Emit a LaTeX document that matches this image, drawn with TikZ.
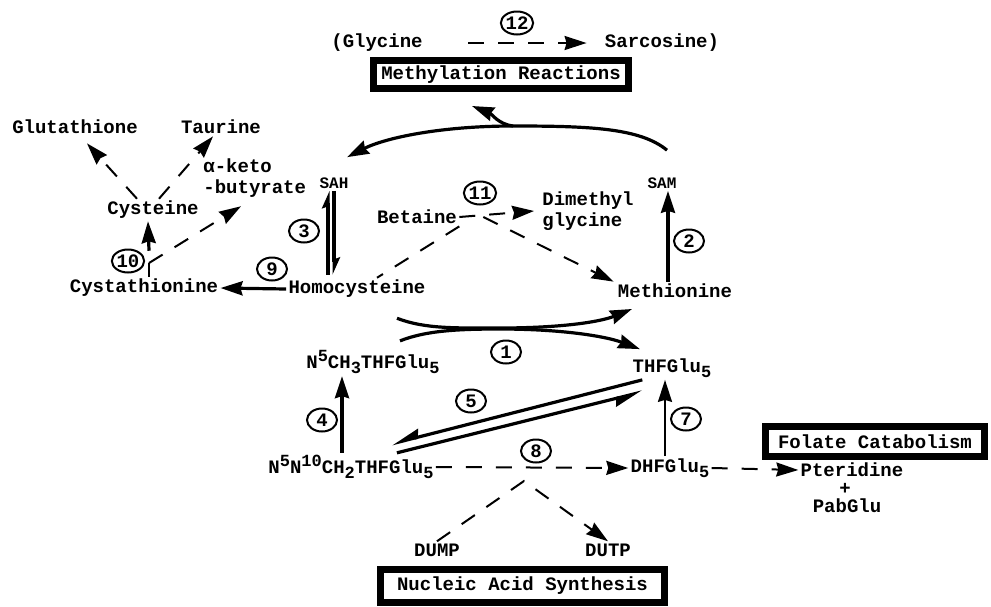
\documentclass[tikz,border=0pt]{standalone}
\usepackage{fontspec}
\setmainfont{Liberation Mono}
\usetikzlibrary{arrows.meta,shapes.geometric}
\newcommand\fz{\fontsize{9.5}{10.5}\selectfont\bfseries}
\newcommand\up[1]{\raisebox{0.7ex}{\fontsize{8.5}{8.5}\selectfont#1}}
\newcommand\dn[1]{\raisebox{-0.5ex}{\fontsize{8.5}{8.5}\selectfont#1}}
\tikzset{
  lbl/.style={font=\fz, inner sep=1pt},
  small/.style={font=\fontsize{8}{9}\selectfont\bfseries, inner sep=1pt},
  stepno/.style={ellipse, draw, line width=1pt, minimum width=15pt, minimum height=11.5pt, inner sep=0pt, font=\fz},
  framebox/.style={draw, line width=3.5pt, inner sep=1pt, font=\fz},
  tip/.style={-{Stealth[length=11pt,width=7pt,inset=1pt]}},
  harp/.style={-{Stealth[harpoon,swap,length=12pt,width=8pt,inset=1pt]}},
  hook/.style={-{Stealth[harpoon,length=7pt,width=6pt,inset=1pt]}},
  dsh/.style={line width=1pt, dash pattern=on 8pt off 7pt},
  rxn/.style={line width=1.6pt},
  fine/.style={line width=1pt},
}
\begin{document}
\begin{tikzpicture}[x=0.5pt,y=-0.5pt]
  \useasboundingbox (0,0) rectangle (991,606);

  \node[lbl] (gly) at (377,43) {(Glycine};
  \node[lbl] (sar) at (662,43) {Sarcosine)};
  \node[stepno] (s12) at (517,23) {12};
  \node[framebox, minimum width=127.5pt, minimum height=14pt] (methyl) at (501,74.5) {Methylation Reactions};

  \node[lbl] (glu) at (75,127) {Glutathione};
  \node[lbl] (tau) at (221,127) {Taurine};
  \node[lbl, align=left, anchor=west] (kb) at (201,178.5) {α-keto\\-butyrate};
  \node[lbl] (cys) at (153,210) {Cysteine};
  \node[lbl] (cysta) at (144,288) {Cystathionine};
  \node[stepno] (s10) at (128,261) {10};
  \node[stepno] (s9) at (272,269) {9};
  \node[lbl] (homo) at (357,289) {Homocysteine};
  \node[small] (sah) at (334,183) {SAH};
  \node[stepno] (s3) at (304,231) {3};

  \node[lbl] (bet) at (417,217) {Betaine};
  \node[stepno] (s11) at (480,193) {11};
  \node[lbl, align=left, anchor=west] (dmg) at (540,211) {Dimethyl\\glycine};
  \node[small] (sam) at (662,183) {SAM};
  \node[lbl] (meth) at (675,291) {Methionine};
  \node[stepno] (s2) at (689,241) {2};

  \node[stepno] (s1) at (506,352) {1};
  \node[lbl] (ch3) at (373,362) {N\up{5}CH\dn{3}THFGlu\dn{5}};
  \node[lbl] (thf) at (672,368) {THFGlu\dn{5}};
  \node[stepno] (s4) at (322,420) {4};
  \node[stepno] (s5) at (471,401) {5};
  \node[stepno] (s7) at (686,419) {7};
  \node[lbl] (ch2) at (351,467) {N\up{5}N\up{10}CH\dn{2}THFGlu\dn{5}};
  \node[stepno] (s8) at (536,451) {8};
  \node[lbl] (dhf) at (670,468) {DHFGlu\dn{5}};
  \node[lbl] (pter) at (852,470) {Pteridine};
  \node[lbl] (plus) at (845,489) {+};
  \node[lbl] (pab) at (847,506) {PabGlu};
  \node[framebox, minimum width=109.5pt, minimum height=15pt] (folate) at (875,441.5) {Folate Catabolism};
  \node[lbl] (dump) at (437,550) {DUMP};
  \node[lbl] (dutp) at (608,550) {DUTP};
  \node[framebox, minimum width=142pt, minimum height=16.5pt] (nucleic) at (522.5,586) {Nucleic Acid Synthesis};
  \coordinate (top) at (513,126);
  \coordinate (j10) at (149,263);
  \coordinate (fork) at (524,481);

  \draw[dsh,tip] ([xshift=21.5pt]gly.east) -- ([xshift=-8pt]sar.west);
  \draw[rxn,tip] ([xshift=2.5pt,yshift=12.5pt]sam.north) .. controls (640,128) and (590,126) .. (top)
    .. controls (440,126) and (385,138) .. ([xshift=6.5pt,yshift=9pt]sah.north);
  \draw[rxn,tip] (top) .. controls (498,124) and (492,114) .. ([xshift=-14.5pt,yshift=-7pt]methyl.south);

  \draw[line width=2pt,hook] ([xshift=-3pt]sah.south) ++(0,84) -- ++(0,-84);
  \draw[line width=2pt,hook] ([xshift=0pt]sah.south) -- ++(0,84);

  \draw[dsh,tip] (bet.east) -- ([xshift=-3pt]dmg.west);
  \draw[dsh] (bet.south east) -- ([xshift=10pt]homo.north);
  \draw[dsh,tip] ([xshift=12pt]bet.east) -- ([xshift=-1pt]meth.north west);
  \draw[rxn,tip] ([xshift=-3.5pt]meth.north) -- ([xshift=3pt]sam.south);

  \draw[rxn,tip] (homo.west) -- (cysta.east);
  \draw[dsh] ([xshift=2.5pt]cysta.north) -- (j10);
  \draw[rxn,tip] ([xshift=2.5pt,yshift=13pt]cysta.north) -- ([xshift=-2.5pt]cys.south);
  \draw[dsh,tip] (j10) -- ([xshift=20pt,yshift=-3pt]kb.south west);
  \draw[dsh,tip] ([xshift=-8pt]cys.north) -- ([xshift=6pt,yshift=-3.5pt]glu.south);
  \draw[dsh,tip] ([xshift=3pt]cys.north) -- ([xshift=-4pt]tau.south);

  \draw[rxn,tip] ([xshift=20pt,yshift=-9pt]homo.south) .. controls (425,329) and (455,328) .. (500,328)
    .. controls (560,328) and (600,322) .. ([xshift=-21.5pt,yshift=-4.3pt]meth.south);
  \draw[rxn,tip] ([xshift=13.5pt,yshift=3.5pt]ch3.north) .. controls (425,331) and (455,329) .. (500,329)
    .. controls (560,329) and (605,336) .. ([xshift=-16pt,yshift=3.5pt]thf.north);

  \draw[rxn,tip] ([xshift=-4.5pt]ch2.north) -- ([xshift=-15.5pt]ch3.south);
  \draw[rxn,harp] ([xshift=6pt]thf.south west) -- ([xshift=-22pt,yshift=4.5pt]ch2.north east);
  \draw[rxn,harp] ([xshift=-19.5pt]ch2.north east) -- ([xshift=6pt,yshift=-6pt]thf.south west);
  \draw[fine,tip] ([xshift=-2.5pt]dhf.north) -- ([xshift=-3.5pt]thf.south);

  \draw[dsh,tip] (ch2.east) -- (dhf.west);
  \draw[dsh,tip] (dump.north) -- (fork) -- (dutp.north);
  \draw[dsh,tip] (dhf.east) -- (pter.west);
\end{tikzpicture}
\end{document}
